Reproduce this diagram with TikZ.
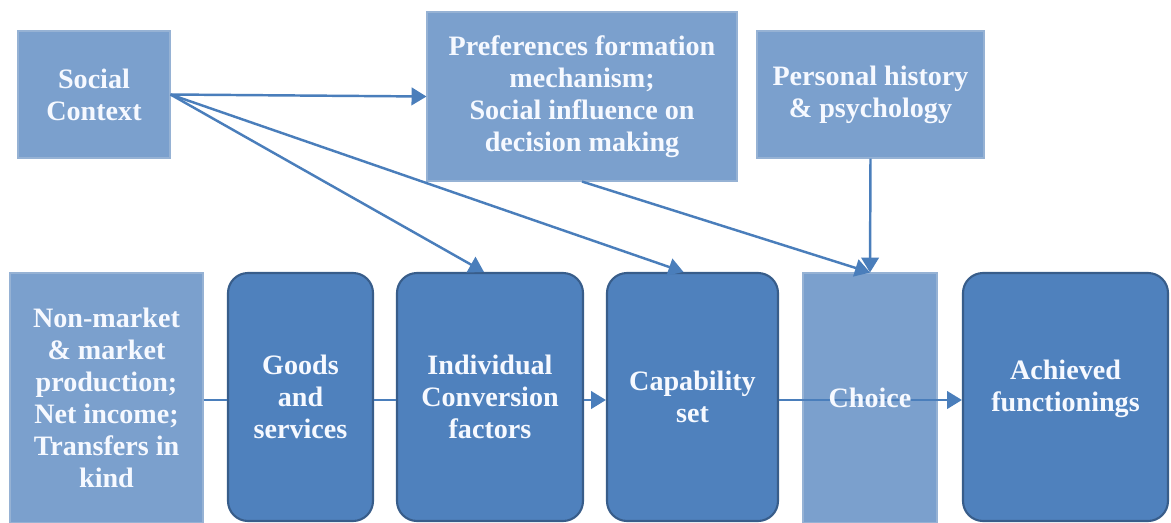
\documentclass[tikz,border=0pt]{standalone}
\usepackage{fontspec}
\setmainfont{Liberation Serif}
\usetikzlibrary{arrows.meta, positioning}

\definecolor{lightbox}{RGB}{123,160,205}
\definecolor{lightedge}{RGB}{150,178,212}
\definecolor{darkbox}{RGB}{79,129,189}
\definecolor{darkedge}{RGB}{56,93,138}
\definecolor{link}{RGB}{74,126,187}
\definecolor{boxtext}{RGB}{246,249,255}

\begin{document}
\begin{tikzpicture}[x=0.02cm, y=-0.02cm,
	font=\fontsize{16}{18.2}\selectfont\bfseries,
	plainbox/.style={rectangle, fill=lightbox, draw=lightedge, line width=0.6pt, text=boxtext, align=center, inner sep=0pt},
	roundbox/.style={rectangle, rounded corners=0.4cm, fill=darkbox, draw=darkedge, line width=1.2pt, text=boxtext, align=center, inner sep=0pt},
	link/.style={draw=link, line width=1.4pt},
	linkarrow/.style={link, -{Triangle[length=8.5pt, width=10pt]}}]
	\def\px{0.02cm}

	\useasboundingbox (0,0) rectangle (1171,522);
	\clip (0,0) rectangle (1171,522);

	% top row
	\node[plainbox, minimum width=152*\px, minimum height=127*\px] (social) at (94,94.5) {Social\\Context};
	\node[plainbox, minimum width=310*\px, minimum height=169*\px] (pref) at (582,96.5) {Preferences formation\\mechanism;\\Social influence on\\decision making};
	\node[plainbox, minimum width=227*\px, minimum height=127*\px] (personal) at (870.5,94.5) {Personal history\\\& psychology};

	% bottom row
	\node[plainbox, minimum width=193*\px, minimum height=250*\px] (market) at (106.5,398) {Non-market\\\& market\\production;\\Net income;\\Transfers in\\kind};
	\node[roundbox, minimum width=145*\px, minimum height=248*\px] (goods) at (300.5,397) {Goods\\and\\services};
	\node[roundbox, minimum width=186*\px, minimum height=248*\px] (indiv) at (490,397) {Individual\\Conversion\\factors};
	\node[roundbox, minimum width=171*\px, minimum height=248*\px] (capab) at (692.5,397) {Capability\\set};
	\node[plainbox, minimum width=134*\px, minimum height=250*\px] (choice) at (870,398) {};
	\node[roundbox, minimum width=205*\px, minimum height=248*\px] (achieved) at (1065.5,397) {};

	% connectors
	\draw[linkarrow] (social.east) -- (pref.west);
	\draw[linkarrow] (social.east) -- ([xshift=-6*\px]indiv.north);
	\draw[linkarrow] (social.east) -- ([xshift=-9*\px]capab.north);
	\draw[linkarrow] (pref.south) -- (choice.north);
	\draw[linkarrow] (personal.south) -- (choice.north);
	\draw[link] (market.east |- 0,400) -- (goods.west |- 0,400);
	\draw[link] (goods.east |- 0,400) -- (indiv.west |- 0,400);
	\draw[linkarrow] (indiv.east |- 0,400) -- (capab.west |- 0,400);
	\draw[linkarrow] (capab.east |- 0,400) -- (achieved.west |- 0,400);

	\node[text=boxtext] (choicetext) at (choice.center) {Choice};
	\node[text=boxtext, align=center] (achievedtext) at ([yshift=8*\px]achieved.center) {Achieved\\functionings};
\end{tikzpicture}
\end{document}
